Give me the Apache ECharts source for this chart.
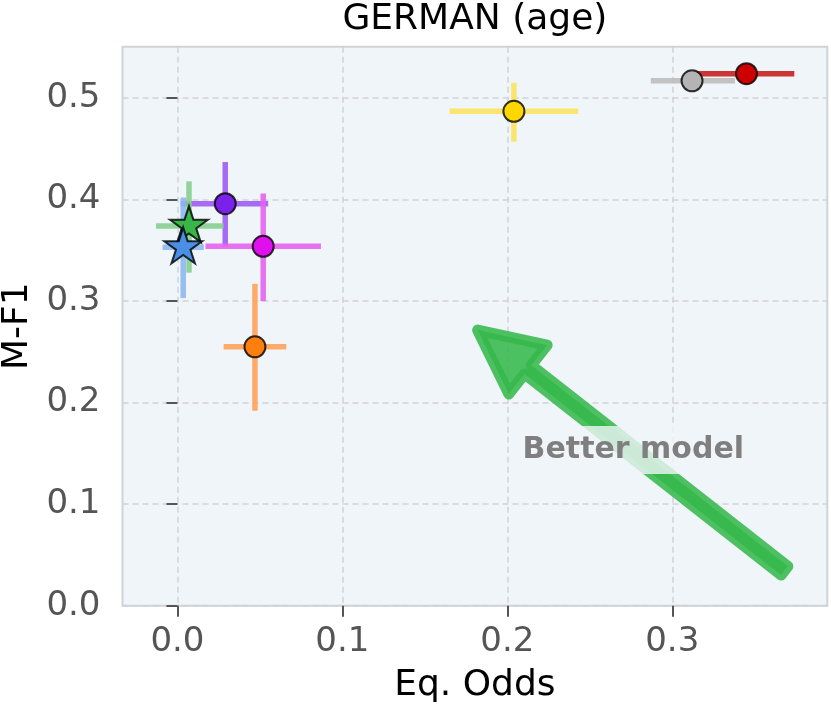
<!DOCTYPE html>
<html><head><meta charset="utf-8">
<script src="https://cdn.jsdelivr.net/npm/echarts@6/dist/echarts.min.js"></script>
<style>html,body{margin:0;padding:0;background:#fff}#c{width:831px;height:708px}</style>
</head><body><div id="c"></div>
<script>
// ---- data ----
const models      = ['Red', 'Grey', 'Yellow', 'Purple', 'Magenta', 'Orange', 'Green', 'Blue'];
const eqOdds      = [0.345, 0.312, 0.204, 0.029, 0.052, 0.047, 0.007, 0.0035];
const eqOddsLow   = [0.315, 0.287, 0.165, 0.002, 0.017, 0.028, -0.013, -0.009];
const eqOddsHigh  = [0.374, 0.338, 0.243, 0.055, 0.087, 0.066, 0.028, 0.016];
const mf1         = [0.524, 0.517, 0.487, 0.396, 0.354, 0.255, 0.374, 0.353];
const mf1Low      = [0.521, 0.514, 0.457, 0.354, 0.300, 0.192, 0.328, 0.303];
const mf1High     = [0.527, 0.520, 0.515, 0.437, 0.406, 0.317, 0.418, 0.402];
const markerShape = ['circle', 'circle', 'circle', 'circle', 'circle', 'circle', 'star', 'star'];
const pointColors = ['#cc0000', '#b4b4b4', '#ffd700', '#7a22ea', '#e010ee', '#ff7f0e', '#3ab54a', '#4a8fe6'];
const barColors   = ['#c82020', '#bcbcbc', '#fbe35f', '#9d5cf2', '#e463f0', '#ffa35a', '#85d08f', '#8db8f0'];
const xTicks      = [0.0, 0.1, 0.2, 0.3];
const yTicks      = [0.0, 0.1, 0.2, 0.3, 0.4, 0.5];
const arrowFrom   = [0.368, 0.0345];
const arrowTo     = [0.182, 0.2715];
const noteText    = 'Better model';
const notePos     = [0.2764, 0.1533];
const titleText   = 'GERMAN (age)';

const FONT = 'DejaVu Sans';
const GRID = { left: 122.5, right: 3.7, top: 46.7, bottom: 102.3 };

// five-pointed star path
function starPath() {
  const pts = [];
  for (let k = 0; k < 10; k++) {
    const r = k % 2 === 0 ? 1 : 0.381966;
    const a = -Math.PI / 2 + k * Math.PI / 5;
    pts.push((r * Math.cos(a)).toFixed(4) + ',' + (r * Math.sin(a)).toFixed(4));
  }
  return 'path://M' + pts.join('L') + 'Z';
}
const STAR = starPath();
const STAR_SIZE = [38, 36];

const errData = models.map((m, i) => [eqOdds[i], mf1[i], eqOddsLow[i], eqOddsHigh[i], mf1Low[i], mf1High[i], i]);
const pointData = models.map((m, i) => {
  const isStar = markerShape[i] === 'star';
  return {
    name: m,
    value: [eqOdds[i], mf1[i]],
    symbol: isStar ? STAR : 'circle',
    symbolSize: isStar ? STAR_SIZE : 21,
    symbolKeepAspect: false,
    symbolOffset: isStar ? [0, -0.0955 * STAR_SIZE[1] / 1.809] : [0, 0],
    itemStyle: { color: pointColors[i], borderColor: 'rgba(0,0,0,0.8)', borderWidth: 2, opacity: 1 }
  };
});

const chart = echarts.init(document.getElementById('c'), null, { renderer: 'canvas' });
chart.setOption({
  animation: false,
  backgroundColor: '#ffffff',
  textStyle: { fontFamily: FONT },
  graphic: [{
    type: 'text', x: GRID.left + (831 - GRID.left - GRID.right) / 2, y: 2, z: 10,
    style: { text: titleText, align: 'center', verticalAlign: 'top',
      font: '36px "DejaVu Sans"', fill: '#000' }
  }],
  grid: {
    left: GRID.left, right: GRID.right, top: GRID.top, bottom: GRID.bottom,
    containLabel: false, outerBoundsMode: 'none',
    show: true, backgroundColor: '#f0f5f9', borderColor: '#cfd3d6', borderWidth: 2
  },
  xAxis: {
    type: 'value', min: -0.0333, max: 0.394,
    name: 'Eq. Odds', nameLocation: 'middle', nameGap: 62,
    nameTextStyle: { fontFamily: FONT, fontSize: 36, color: '#000' },
    axisLine: { show: false },
    axisTick: { show: true, length: 11, lineStyle: { color: '#555', width: 2 }, customValues: xTicks },
    axisLabel: { fontFamily: FONT, fontSize: 34, color: '#555', margin: 19, customValues: xTicks,
      formatter: v => v.toFixed(1) },
    splitLine: { show: true, lineStyle: { color: '#cfd2d6', width: 1.5, type: [6, 4] } }
  },
  yAxis: {
    type: 'value', min: 0, max: 0.5506,
    name: 'M-F1', nameLocation: 'middle', nameGap: 84, nameRotate: 90,
    nameTextStyle: { fontFamily: FONT, fontSize: 36, color: '#000' },
    axisLine: { show: false },
    axisTick: { show: true, length: 11, lineStyle: { color: '#555', width: 2 }, customValues: yTicks },
    axisLabel: { fontFamily: FONT, fontSize: 34, color: '#555', margin: 22, customValues: yTicks,
      formatter: v => v.toFixed(1) },
    splitLine: { show: true, lineStyle: { color: '#cfd2d6', width: 1.5, type: [6, 4] } }
  },
  series: [
    {
      type: 'custom', name: 'errorbars', z: 3, clip: false,
      encode: { x: 0, y: 1 },
      data: errData,
      renderItem: function (params, api) {
        const i = api.value(6);
        const y = api.value(1), x = api.value(0);
        const a = api.coord([api.value(2), y]);
        const b = api.coord([api.value(3), y]);
        const c = api.coord([x, api.value(4)]);
        const d = api.coord([x, api.value(5)]);
        const st = { stroke: barColors[i], lineWidth: 5.5, opacity: 0.9 };
        return {
          type: 'group',
          children: [
            { type: 'line', shape: { x1: a[0], y1: a[1], x2: b[0], y2: b[1] }, style: st },
            { type: 'line', shape: { x1: c[0], y1: c[1], x2: d[0], y2: d[1] }, style: st }
          ]
        };
      }
    },
    {
      type: 'scatter', name: 'points', z: 4,
      data: pointData
    },
    {
      type: 'custom', name: 'arrow', z: 5, clip: false,
      encode: { x: [0, 2], y: [1, 3] },
      data: [[arrowFrom[0], arrowFrom[1], arrowTo[0], arrowTo[1]]],
      renderItem: function (params, api) {
        const p0 = api.coord([api.value(0), api.value(1)]);
        const p1 = api.coord([api.value(2), api.value(3)]);
        const dx = p1[0] - p0[0], dy = p1[1] - p0[1];
        const L = Math.sqrt(dx * dx + dy * dy);
        const ux = dx / L, uy = dy / L, nx = -uy, ny = ux;
        const H = 64, W = 31, s = 5.5;
        const bx = p1[0] - ux * H, by = p1[1] - uy * H;
        const pts = [
          [p0[0] + nx * s, p0[1] + ny * s],
          [bx + nx * s, by + ny * s],
          [bx + nx * W, by + ny * W],
          [p1[0], p1[1]],
          [bx - nx * W, by - ny * W],
          [bx - nx * s, by - ny * s],
          [p0[0] - nx * s, p0[1] - ny * s]
        ];
        return {
          type: 'polygon',
          shape: { points: pts },
          style: { fill: 'rgb(53,184,75)', stroke: 'rgb(53,184,75)', lineWidth: 11, lineJoin: 'round', opacity: 0.87 }
        };
      }
    },
    {
      type: 'custom', name: 'note', z: 6, clip: false,
      encode: { x: 0, y: 1 },
      data: [[notePos[0], notePos[1]]],
      renderItem: function (params, api) {
        const p = api.coord([api.value(0), api.value(1)]);
        return {
          type: 'text', x: p[0], y: p[1],
          style: {
            text: noteText, align: 'center', verticalAlign: 'middle',
            font: 'bold 30px "DejaVu Sans"', fill: '#7f7f7f', lineHeight: 30,
            backgroundColor: 'rgba(240,245,249,0.8)', padding: [9, 10]
          }
        };
      }
    }
  ]
});
</script>
</body></html>
